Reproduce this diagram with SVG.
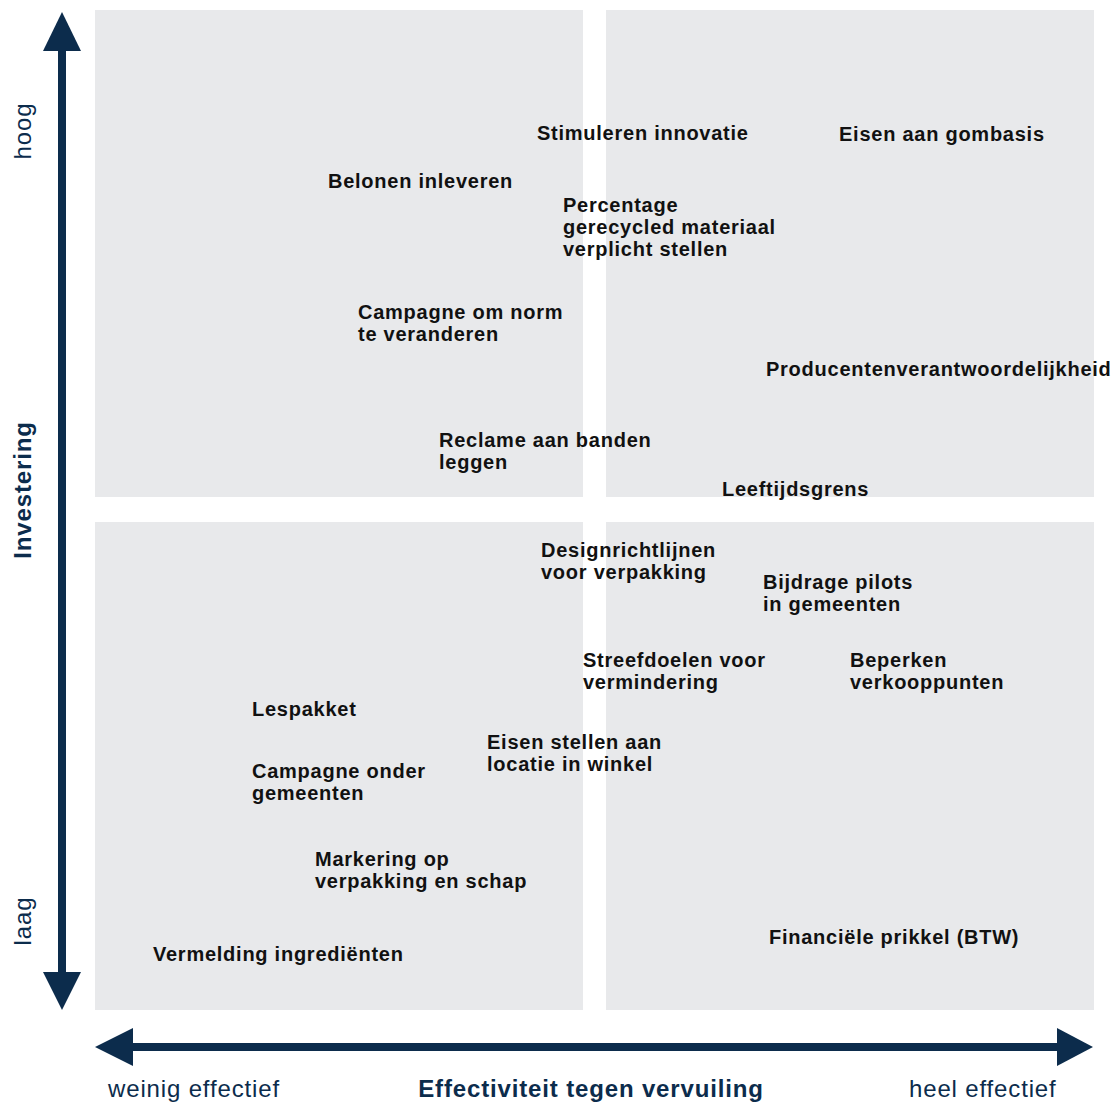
<svg xmlns="http://www.w3.org/2000/svg" width="1114" height="1102" viewBox="0 0 1114 1102">
<style>
.q{fill:#e8e9eb}
.ax{fill:#0c2c4c}
.t{font-family:"Liberation Sans",Arial,sans-serif;font-weight:bold;font-size:20px;letter-spacing:0.75px;fill:#111}
.al{font-family:"Liberation Sans",Arial,sans-serif;font-size:24px;letter-spacing:0.85px;fill:#0c2c4c}
.ab{font-family:"Liberation Sans",Arial,sans-serif;font-size:24px;letter-spacing:0.85px;font-weight:bold;fill:#0c2c4c}
</style>
<rect width="1114" height="1102" fill="#fff"/>
<g id="quadrants">
<rect class="q" x="95" y="10" width="488" height="487"/>
<rect class="q" x="606" y="10" width="488" height="487"/>
<rect class="q" x="95" y="522" width="488" height="488"/>
<rect class="q" x="606" y="522" width="488" height="488"/>
</g>
<g id="connectors">
<rect class="ax" x="58" y="50" width="8" height="924"/>
<polygon class="ax" points="62,12 81,51 43,51"/>
<polygon class="ax" points="62,1010 81,972 43,972"/>
<rect class="ax" x="132" y="1043" width="926" height="8"/>
<polygon class="ax" points="95,1047 133,1028 133,1066"/>
<polygon class="ax" points="1093,1047 1057,1028 1057,1066"/>
</g>
<g id="axis-labels">
<text class="al" transform="translate(31,131) rotate(-90)" text-anchor="middle">hoog</text>
<text class="ab" transform="translate(31,490) rotate(-90)" text-anchor="middle">Investering</text>
<text class="al" transform="translate(31,921) rotate(-90)" text-anchor="middle">laag</text>
<text class="al" x="108" y="1097">weinig effectief</text>
<text class="ab" x="591" y="1097" text-anchor="middle">Effectiviteit tegen vervuiling</text>
<text class="al" x="909" y="1097">heel effectief</text>
</g>
<g id="n-stimuleren"><text class="t" x="537" y="140">Stimuleren innovatie</text></g>
<g id="n-gombasis"><text class="t" x="839" y="141">Eisen aan gombasis</text></g>
<g id="n-belonen"><text class="t" x="328" y="188">Belonen inleveren</text></g>
<g id="n-percentage"><text class="t" x="563" y="212">Percentage<tspan x="563" dy="22">gerecycled materiaal</tspan><tspan x="563" dy="22">verplicht stellen</tspan></text></g>
<g id="n-campagne-norm"><text class="t" x="358" y="319">Campagne om norm<tspan x="358" dy="22">te veranderen</tspan></text></g>
<g id="n-producent"><text class="t" x="766" y="376">Producentenverantwoordelijkheid</text></g>
<g id="n-reclame"><text class="t" x="439" y="447">Reclame aan banden<tspan x="439" dy="22">leggen</tspan></text></g>
<g id="n-leeftijd"><text class="t" x="722" y="496">Leeftijdsgrens</text></g>
<g id="n-design"><text class="t" x="541" y="557">Designrichtlijnen<tspan x="541" dy="22">voor verpakking</tspan></text></g>
<g id="n-bijdrage"><text class="t" x="763" y="589">Bijdrage pilots<tspan x="763" dy="22">in gemeenten</tspan></text></g>
<g id="n-streefdoelen"><text class="t" x="583" y="667">Streefdoelen voor<tspan x="583" dy="22">vermindering</tspan></text></g>
<g id="n-beperken"><text class="t" x="850" y="667">Beperken<tspan x="850" dy="22">verkooppunten</tspan></text></g>
<g id="n-lespakket"><text class="t" x="252" y="716">Lespakket</text></g>
<g id="n-locatie"><text class="t" x="487" y="749">Eisen stellen aan<tspan x="487" dy="22">locatie in winkel</tspan></text></g>
<g id="n-campagne-gem"><text class="t" x="252" y="778">Campagne onder<tspan x="252" dy="22">gemeenten</tspan></text></g>
<g id="n-markering"><text class="t" x="315" y="866">Markering op<tspan x="315" dy="22">verpakking en schap</tspan></text></g>
<g id="n-financieel"><text class="t" x="769" y="944">Financiële prikkel (BTW)</text></g>
<g id="n-vermelding"><text class="t" x="153" y="961">Vermelding ingrediënten</text></g>
</svg>
